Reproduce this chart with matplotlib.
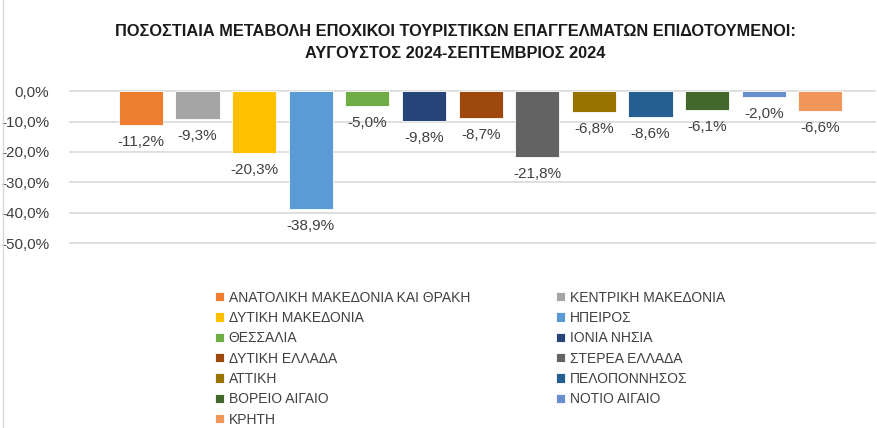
import numpy as np
import matplotlib.pyplot as plt
from matplotlib.lines import Line2D
from matplotlib.ticker import FuncFormatter

regions = ['ΑΝΑΤΟΛΙΚΗ ΜΑΚΕΔΟΝΙΑ ΚΑΙ ΘΡΑΚΗ', 'ΚΕΝΤΡΙΚΗ ΜΑΚΕΔΟΝΙΑ', 'ΔΥΤΙΚΗ ΜΑΚΕΔΟΝΙΑ',
           'ΗΠΕΙΡΟΣ', 'ΘΕΣΣΑΛΙΑ', 'ΙΟΝΙΑ ΝΗΣΙΑ', 'ΔΥΤΙΚΗ ΕΛΛΑΔΑ', 'ΣΤΕΡΕΑ ΕΛΛΑΔΑ',
           'ΑΤΤΙΚΗ', 'ΠΕΛΟΠΟΝΝΗΣΟΣ', 'ΒΟΡΕΙΟ ΑΙΓΑΙΟ', 'ΝΟΤΙΟ ΑΙΓΑΙΟ', 'ΚΡΗΤΗ']
changes = [-11.2, -9.3, -20.3, -38.9, -5.0, -9.8, -8.7, -21.8, -6.8, -8.6, -6.1, -2.0, -6.6]
colors = ['#ED7D31', '#A5A5A5', '#FFC000', '#5B9BD5', '#70AD47', '#264478', '#9E480E',
          '#636363', '#997300', '#255E91', '#43682B', '#698ED0', '#F1975A']
yticks = [0, -10, -20, -30, -40, -50]

plt.rcParams['font.family'] = ['Liberation Sans', 'DejaVu Sans']

fig = plt.figure(figsize=(8.77, 4.28), dpi=100)
ax = fig.add_axes([0.08, 0.432, 0.918, 0.355])

x = np.arange(len(changes))
bars = ax.bar(x, changes, width=0.78, color=colors, edgecolor='white', linewidth=0.6, zorder=3)
for xi, v in zip(x, changes):
    ax.annotate('{:.1f}%'.format(v).replace('.', ','), (xi, v), xytext=(0, -17),
                textcoords='offset pixels', ha='center', va='center', fontsize=11, color='#404040')

ax.set_ylim(-50, 0)
ax.set_xlim(-1.25, 12.97)
ax.set_yticks(yticks)
ax.yaxis.set_major_formatter(FuncFormatter(lambda v, p: '{:.1f}%'.format(v).replace('.', ',')))
ax.tick_params(axis='y', length=0, labelsize=11, labelcolor='#404040', pad=15)
ax.set_xticks([])
ax.grid(axis='y', color='#D9D9D9', linewidth=1.2, zorder=0)
ax.set_axisbelow(True)
for s in ax.spines.values():
    s.set_visible(False)
for line in ax.get_ygridlines():
    line.set_clip_on(False)

fig.text(0.519, 0.927, 'ΠΟΣΟΣΤΙΑΙΑ ΜΕΤΑΒΟΛΗ ΕΠΟΧΙΚΟΙ ΤΟΥΡΙΣΤΙΚΩΝ ΕΠΑΓΓΕΛΜΑΤΩΝ ΕΠΙΔΟΤΟΥΜΕΝΟΙ:',
         ha='center', va='center', fontsize=11.8, fontweight='bold', color='#1a1a1a')
fig.text(0.519, 0.876, 'ΑΥΓΟΥΣΤΟΣ 2024-ΣΕΠΤΕΜΒΡΙΟΣ 2024',
         ha='center', va='center', fontsize=11.8, fontweight='bold', color='#1a1a1a')

order = list(range(0, 13, 2)) + list(range(1, 13, 2))
handles = [bars[i] for i in order]
labels = [regions[i] for i in order]
fig.legend(handles, labels, ncol=2, loc='upper left', bbox_to_anchor=(0.245, 0.321),
           frameon=False, fontsize=10, handlelength=0.65, handleheight=0.65,
           handletextpad=0.35, labelspacing=0.455, columnspacing=6.2, labelcolor='#404040',
           borderaxespad=0, borderpad=0)

fig.add_artist(Line2D([0.003, 0.003], [0, 1], color='#D9D9D9', linewidth=1))

plt.savefig('out.png')
